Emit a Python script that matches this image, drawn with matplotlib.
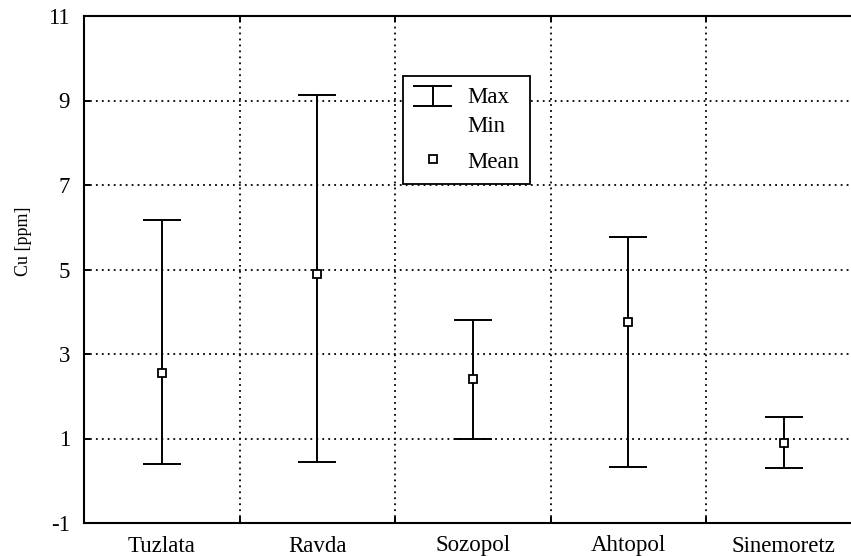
import numpy as np
import matplotlib
matplotlib.use("Agg")
import matplotlib.pyplot as plt
from matplotlib.lines import Line2D
from matplotlib.legend_handler import HandlerBase

plt.rcParams['font.family'] = ['Liberation Serif', 'DejaVu Serif']
plt.rcParams['axes.unicode_minus'] = False

# data
sites = ["Tuzlata", "Ravda", "Sozopol", "Ahtopol", "Sinemoretz"]
cu_max = [6.17, 9.14, 3.80, 5.78, 1.52]
cu_min = [0.40, 0.45, 1.00, 0.32, 0.30]
cu_mean = [2.56, 4.90, 2.41, 3.76, 0.89]
y_ticks = [-1, 1, 3, 5, 7, 9, 11]


class HandlerMaxMin(HandlerBase):
    """I-shaped symbol, drawn next to the 'Max' line of the label"""

    def create_artists(self, legend, orig_handle, xdescent, ydescent,
                       width, height, fontsize, trans):
        x0, x1 = -xdescent, -xdescent + width
        xm = (x0 + x1) / 2
        yc = -ydescent + height / 2 + 0.72 * fontsize
        y0, y1 = yc - 0.43 * fontsize, yc + 0.43 * fontsize
        kw = dict(color='black', lw=1.4, transform=trans)
        return [Line2D([x0, x1], [y1, y1], **kw),
                Line2D([x0, x1], [y0, y0], **kw),
                Line2D([xm, xm], [y0, y1], **kw)]


fig = plt.figure(figsize=(8.51, 5.56), dpi=100)
ax = fig.add_axes([84 / 851, 33 / 556, 777.5 / 851, 507 / 556])

x = np.arange(len(sites))
mean = np.array(cu_mean)
err = np.vstack([mean - np.array(cu_min), np.array(cu_max) - mean])

ax.errorbar(x, mean, yerr=err, fmt='none', ecolor='black', elinewidth=1.4,
            capsize=13.5, capthick=1.4, zorder=3)
ax.plot(x, mean, 's', ms=6, mfc='white', mec='black', mew=1.3, ls='none', zorder=4)

ax.set_xlim(-0.5, 4.5)
ax.set_ylim(-1, 11)
ax.set_yticks(y_ticks)
ax.set_xticks(x)
ax.set_xticklabels(sites)
ax.set_xticks(x[:-1] + 0.5, minor=True)

ax.tick_params(axis='x', which='major', length=0, pad=9, labelsize=16.5)
ax.tick_params(axis='x', which='minor', direction='in', length=4, width=1.4,
               top=True, bottom=True)
ax.tick_params(axis='y', which='major', direction='in', length=4, width=1.4,
               pad=10, labelsize=16.5)

dots = dict(color='black', lw=1.3, ls=(0, (1, 2.3)))
ax.grid(True, axis='x', which='minor', **dots)
ax.grid(True, axis='y', which='major', **dots)
ax.set_axisbelow(True)

for side in ['left', 'bottom', 'top', 'right']:
    ax.spines[side].set_linewidth(1.5)

ax.set_ylabel("Cu [ppm]", fontsize=13)
ax.yaxis.set_label_coords(-0.067, 0.556)

h_range = Line2D([], [], color='black')
h_mean = Line2D([], [], marker='s', ms=6, mfc='white', mec='black', mew=1.3, ls='none')
leg = ax.legend([h_range, h_mean], ["Max\nMin", "Mean"],
                handler_map={h_range: HandlerMaxMin()},
                loc='upper left', bbox_to_anchor=(0.41, 0.882), borderaxespad=0,
                fontsize=16.5, frameon=True, fancybox=False, framealpha=1,
                edgecolor='black', handlelength=1.6, handleheight=0.8,
                handletextpad=0.7, labelspacing=0.6, borderpad=0.5)
leg.get_frame().set_linewidth(1.3)
leg.get_texts()[0].set_linespacing(1.5)

fig.savefig("out.png", dpi=100, facecolor='white')
